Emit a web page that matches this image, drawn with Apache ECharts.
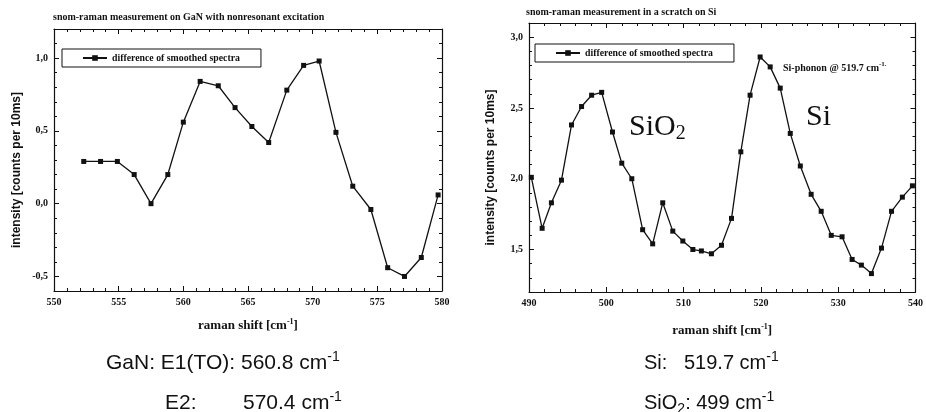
<!DOCTYPE html>
<html lang="en">
<head>
<meta charset="UTF-8">
<title>snom-raman spectra</title>
<script src="https://cdn.jsdelivr.net/npm/echarts@6.0.0/dist/echarts.min.js"></script>
<style>
  html, body { margin: 0; padding: 0; background: #fff; }
  #chart { width: 926px; height: 412px; }
</style>
</head>
<body>
<div id="chart"></div>
<script>
  // GaN, nonresonant excitation (left panel)
  let ganShift = [552.3, 553.6, 554.9, 556.2, 557.5, 558.8, 560.0, 561.3, 562.7, 564.0, 565.3,
                  566.6, 568.0, 569.3, 570.5, 571.8, 573.1, 574.5, 575.8, 577.1, 578.4, 579.7];
  let ganIntensity = [0.29, 0.29, 0.29, 0.20, 0.00, 0.20, 0.56, 0.84, 0.81, 0.66, 0.53,
                      0.42, 0.78, 0.95, 0.98, 0.49, 0.12, -0.04, -0.44, -0.50, -0.37, 0.06];
  // scratch on Si (right panel)
  let siShift = [490.3, 491.7, 492.9, 494.2, 495.5, 496.8, 498.1, 499.4, 500.8, 502.0, 503.3, 504.7, 506.0,
                 507.3, 508.6, 509.9, 511.2, 512.3, 513.6, 514.9, 516.2, 517.4, 518.6, 519.9, 521.2, 522.5,
                 523.8, 525.1, 526.5, 527.8, 529.1, 530.5, 531.8, 533.0, 534.3, 535.6, 536.9, 538.3, 539.6];
  let siIntensity = [2.01, 1.65, 1.83, 1.99, 2.38, 2.51, 2.59, 2.61, 2.33, 2.11, 2.00, 1.64, 1.54,
                     1.83, 1.63, 1.56, 1.50, 1.49, 1.47, 1.53, 1.72, 2.19, 2.59, 2.86, 2.79, 2.64,
                     2.32, 2.09, 1.89, 1.77, 1.60, 1.59, 1.43, 1.39, 1.33, 1.51, 1.77, 1.87, 1.95];
  // major y tick labels
  let ganYTicks = [-0.5, 0.0, 0.5, 1.0];
  let siYTicks = [1.5, 2.0, 2.5, 3.0];

  const LEG = 'difference of smoothed spectra';
  const SERIF = '"Liberation Serif", "DejaVu Serif", serif';
  const SANS = '"Liberation Sans", Arial, sans-serif';
  const INK = '#111';

  function pairs(xs, ys) {
    let out = [];
    for (let i = 0; i < xs.length; i++) {
      out.push([xs[i], ys[i]]);
    }
    return out;
  }
  function comma(v) {
    return v.toFixed(1).replace('.', ',');
  }

  // bottom + mirrored top axis for one panel
  function xAxes(grid, min, max, step, minorSplit, gap) {
    let base = {
      gridIndex: grid, type: 'value', min: min, max: max, interval: step,
      axisLine: { onZero: false, lineStyle: { color: INK, width: 1.2 } },
      axisTick: { inside: true, length: 5, lineStyle: { color: INK } },
      minorTick: { show: true, splitNumber: minorSplit, length: 3, lineStyle: { color: INK } },
      splitLine: { show: false }
    };
    let bottom = Object.assign({}, base, {
      position: 'bottom',
      axisLabel: { color: INK, fontFamily: SERIF, fontWeight: 'bold', fontSize: 10, margin: 6 },
      name: 'raman shift [cm{s|-1}]',
      nameLocation: 'middle',
      nameGap: gap,
      nameTextStyle: {
        color: INK, fontFamily: SERIF, fontWeight: 'bold', fontSize: 13,
        rich: { s: { fontFamily: SERIF, fontWeight: 'bold', fontSize: 8, padding: [0, 0, 8, 0] } }
      }
    });
    let top = Object.assign({}, base, { position: 'top', axisLabel: { show: false } });
    return [bottom, top];
  }

  // left + right axes; major ticks from the label list, minor every 0.1
  function yAxes(grid, min, max, ticks, gap, margin) {
    let list = [];
    ['left', 'right'].forEach(function (side) {
      list.push({
        gridIndex: grid, type: 'value', position: side, min: min, max: max,
        axisLine: { show: true, onZero: false, lineStyle: { color: INK, width: 1.2 } },
        axisTick: { show: true, inside: true, length: 5, customValues: ticks, lineStyle: { color: INK } },
        axisLabel: {
          show: side === 'left', customValues: ticks, formatter: comma, margin: margin,
          color: INK, fontFamily: SERIF, fontWeight: 'bold', fontSize: 10
        },
        splitLine: { show: false },
        name: side === 'left' ? 'intensity [counts per 10ms]' : '',
        nameLocation: 'middle',
        nameRotate: 90,
        nameGap: gap,
        nameTextStyle: { color: INK, fontFamily: SANS, fontWeight: 'bold', fontSize: 12, padding: [0, 20, 0, 0] }
      });
      list.push({
        gridIndex: grid, type: 'value', position: side, min: min, max: max, interval: 0.1,
        axisLine: { show: false, onZero: false },
        axisTick: { show: true, inside: true, length: 3, lineStyle: { color: INK } },
        axisLabel: { show: false },
        splitLine: { show: false }
      });
    });
    return list;
  }

  function legendBox(left, top) {
    return {
      left: left, top: top, data: [LEG],
      orient: 'horizontal',
      borderColor: INK, borderWidth: 1, borderRadius: 0,
      padding: [4, 21, 4, 20],
      itemWidth: 24, itemHeight: 7,
      selectedMode: false,
      textStyle: { color: INK, fontFamily: SERIF, fontWeight: 'bold', fontSize: 9.8 }
    };
  }

  function spectrum(xi, yi, xs, ys) {
    return {
      name: LEG, type: 'line',
      xAxisIndex: xi, yAxisIndex: yi,
      data: pairs(xs, ys),
      symbol: 'rect', symbolSize: 5,
      lineStyle: { color: INK, width: 1.3 },
      itemStyle: { color: INK },
      animation: false
    };
  }

  let supBig = { fontFamily: SANS, fontSize: 14, padding: [0, 0, 12, 0] };

  let myChart = echarts.init(document.getElementById('chart'));
  let option = {
    backgroundColor: '#fff',
    animation: false,
    title: [
      {
        text: 'snom-raman measurement on GaN with nonresonant excitation',
        left: 53, top: 12, padding: 0,
        textStyle: { color: INK, fontFamily: SERIF, fontWeight: 'bold', fontSize: 10 }
      },
      {
        text: 'snom-raman measurement in a scratch on Si',
        left: 526, top: 7, padding: 0,
        textStyle: { color: INK, fontFamily: SERIF, fontWeight: 'bold', fontSize: 10 }
      }
    ],
    legend: [legendBox(62, 49), legendBox(535, 44)],
    grid: [
      { left: 54, top: 29, width: 388, height: 262 },
      { left: 529, top: 23, width: 389, height: 269 }
    ],
    xAxis: [].concat(xAxes(0, 550, 580, 5, 5, 27), xAxes(1, 490, 540, 10, 5, 31)),
    yAxis: [].concat(yAxes(0, -0.6, 1.2, ganYTicks, 31, 6), yAxes(1, 1.2, 3.1, siYTicks, 32, 6)),
    series: [
      spectrum(0, 0, ganShift, ganIntensity),
      spectrum(2, 4, siShift, siIntensity)
    ],
    graphic: [
      {
        type: 'text', x: 629, y: 127,
        style: {
          text: '{a|SiO}{b|2}', fill: INK, verticalAlign: 'middle',
          rich: {
            a: { fontFamily: SERIF, fontSize: 30 },
            b: { fontFamily: SERIF, fontSize: 20, padding: [14, 0, 0, 0] }
          }
        }
      },
      {
        type: 'text', x: 806, y: 117,
        style: { text: 'Si', fill: INK, font: '30px ' + SERIF, verticalAlign: 'middle' }
      },
      {
        type: 'text', x: 783, y: 68,
        style: {
          text: '{a|Si-phonon @ 519.7 cm}{s|-1.}', fill: INK, verticalAlign: 'middle',
          rich: {
            a: { fontFamily: SERIF, fontWeight: 'bold', fontSize: 10 },
            s: { fontFamily: SERIF, fontWeight: 'bold', fontSize: 7, padding: [0, 0, 7, 0] }
          }
        }
      },
      {
        type: 'text', x: 106, y: 363,
        style: {
          text: '{a|GaN: E1(TO): 560.8 cm}{s|-1}', fill: INK, verticalAlign: 'middle',
          rich: { a: { fontFamily: SANS, fontSize: 21 }, s: supBig }
        }
      },
      {
        type: 'text', x: 165, y: 403,
        style: { text: 'E2:', fill: INK, font: '21px ' + SANS, verticalAlign: 'middle' }
      },
      {
        type: 'text', x: 243, y: 403,
        style: {
          text: '{a|570.4 cm}{s|-1}', fill: INK, verticalAlign: 'middle',
          rich: { a: { fontFamily: SANS, fontSize: 21 }, s: supBig }
        }
      },
      {
        type: 'text', x: 644, y: 363,
        style: { text: 'Si:', fill: INK, font: '20px ' + SANS, verticalAlign: 'middle' }
      },
      {
        type: 'text', x: 684, y: 363,
        style: {
          text: '{a|519.7 cm}{s|-1}', fill: INK, verticalAlign: 'middle',
          rich: { a: { fontFamily: SANS, fontSize: 20 }, s: supBig }
        }
      },
      {
        type: 'text', x: 644, y: 403,
        style: {
          text: '{a|SiO}{b|2}{a|: 499 cm}{s|-1}', fill: INK, verticalAlign: 'middle',
          rich: {
            a: { fontFamily: SANS, fontSize: 20 },
            b: { fontFamily: SANS, fontSize: 14, padding: [12, 0, 0, 0] },
            s: supBig
          }
        }
      }
    ]
  };
  myChart.setOption(option, true);
  window.addEventListener('resize', function () {
    myChart.resize();
  });
</script>
</body>
</html>
